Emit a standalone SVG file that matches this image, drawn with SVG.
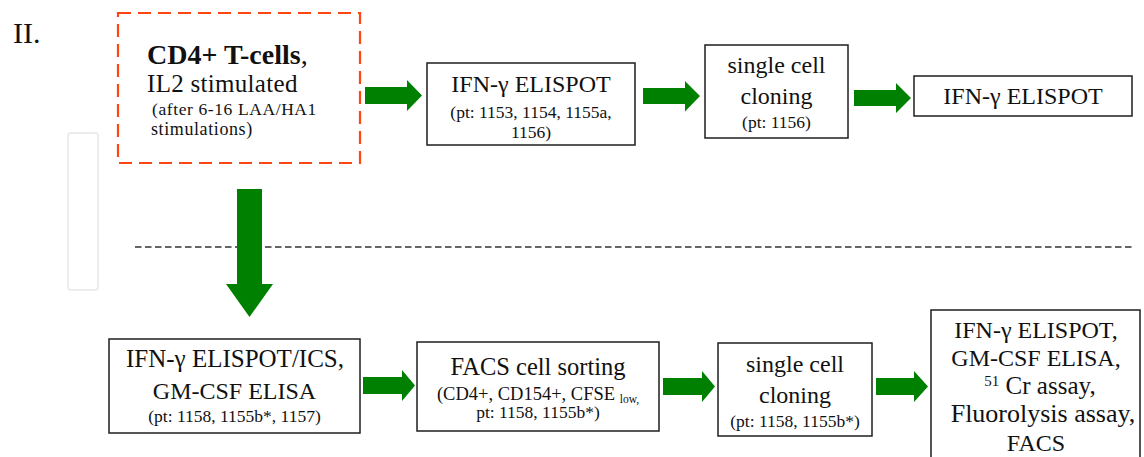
<svg xmlns="http://www.w3.org/2000/svg" width="1144" height="457" viewBox="0 0 1144 457">
<style>
.box{fill:#fff;stroke:#1e1e1e;stroke-width:1.5}
.arr{fill:#008000}
.t{font-family:"Liberation Serif","Times New Roman",serif;fill:#111;text-anchor:middle}
.l{font-family:"Liberation Serif","Times New Roman",serif;fill:#111}
.big{font-size:24px}
.sm{font-size:17.5px}
</style>
<rect width="1144" height="457" fill="#fff"/>
<text class="l" x="13" y="43" font-size="30">II.</text>
<rect x="68" y="133" width="30" height="157" rx="3" fill="none" stroke="#ececec" stroke-width="2"/>
<line x1="135" y1="247" x2="1132" y2="247" stroke="#333" stroke-width="1.5" stroke-dasharray="6.5 3.5"/>

<g id="start">
<rect x="118" y="13" width="242" height="150" fill="#fff" stroke="#ff4612" stroke-width="2.2" stroke-dasharray="13 7"/>
<text class="l" x="147" y="64" font-size="28"><tspan font-weight="bold">CD4+ T-cells</tspan>,</text>
<text class="l" x="147" y="92" font-size="25" letter-spacing="0.3">IL2 stimulated</text>
<text class="l" x="152" y="115" font-size="17.5" letter-spacing="0.6">(after 6-16 LAA/HA1</text>
<text class="l" x="151" y="135" font-size="18" letter-spacing="0.6">stimulations)</text>
</g>

<g id="elispot1">
<rect class="box" x="427" y="63" width="208" height="82"/>
<text class="t big" x="531" y="92">IFN-γ ELISPOT</text>
<text class="t sm" x="531" y="118">(pt: 1153, 1154, 1155a,</text>
<text class="t sm" x="531" y="138">1156)</text>
</g>

<g id="cloning1">
<rect class="box" x="705" y="45" width="143" height="93"/>
<text class="t big" x="776.5" y="73">single cell</text>
<text class="t big" x="776.5" y="104">cloning</text>
<text class="t sm" x="776.5" y="128">(pt: 1156)</text>
</g>

<g id="elispot2">
<rect class="box" x="914" y="76" width="218" height="40"/>
<text class="t big" x="1023" y="104">IFN-γ ELISPOT</text>
</g>

<g id="elisa">
<rect class="box" x="109" y="339" width="251" height="94"/>
<text class="t" x="235" y="367" font-size="25">IFN-γ ELISPOT/ICS,</text>
<text class="t big" x="234.5" y="399">GM-CSF ELISA</text>
<text class="t sm" x="234.5" y="422">(pt: 1158, 1155b*, 1157)</text>
</g>

<g id="facs">
<rect class="box" x="417" y="342" width="242" height="89"/>
<text class="t" x="538" y="375" font-size="24.5">FACS cell sorting</text>
<text class="t" x="538" y="400" font-size="18.5">(CD4+, CD154+, CFSE <tspan font-size="11.5" dy="3">low,</tspan></text>
<text class="t sm" x="538" y="418">pt: 1158, 1155b*)</text>
</g>

<g id="cloning2">
<rect class="box" x="718" y="343" width="154" height="93"/>
<text class="t big" x="795" y="372">single cell</text>
<text class="t big" x="795" y="403">cloning</text>
<text class="t sm" x="795" y="427">(pt: 1158, 1155b*)</text>
</g>

<g id="assays">
<rect class="box" x="931" y="310" width="209" height="170"/>
<text class="t big" x="1036" y="338">IFN-γ ELISPOT,</text>
<text class="t big" x="1036" y="366">GM-CSF ELISA,</text>
<text class="t" x="1040" y="394" font-size="25"><tspan font-size="15" dy="-8">51</tspan><tspan dy="8"> Cr assay,</tspan></text>
<text class="t" x="1043" y="422" font-size="26">Fluorolysis assay,</text>
<text class="t big" x="1036" y="451">FACS</text>
</g>

<g id="connectors">
<polygon class="arr" points="365,87 407,87 407,80 422,95.5 407,111 407,104 365,104"/>
<polygon class="arr" points="643,88 685,88 685,81 700,96 685,111.5 685,104 643,104"/>
<polygon class="arr" points="854,90 896,90 896,83 911,98 896,113 896,106 854,106"/>
<polygon class="arr" points="237,189 262,189 262,284 273,284 249.5,317 226,284 237,284"/>
<polygon class="arr" points="363,377 402,377 402,370 415,385.5 402,401 402,394 363,394"/>
<polygon class="arr" points="663,378 702,378 702,371 715,386.5 702,402 702,395 663,395"/>
<polygon class="arr" points="876,378 914,378 914,371 928,386.5 914,402 914,395 876,395"/>
</g>
</svg>
